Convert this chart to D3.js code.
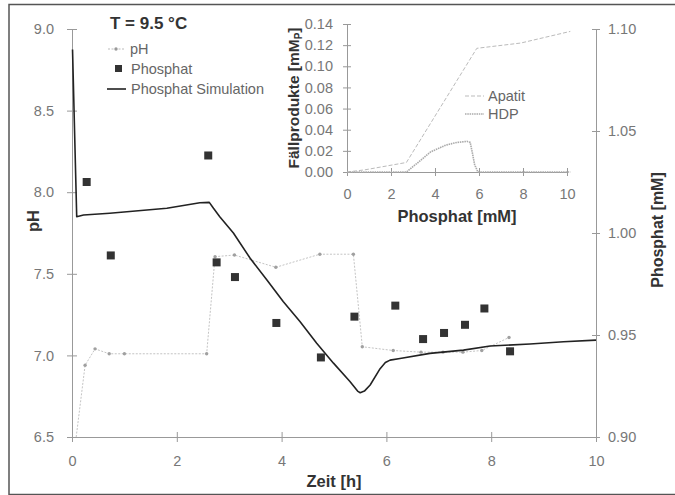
<!DOCTYPE html>
<html><head><meta charset="utf-8">
<script src="https://cdn.jsdelivr.net/npm/d3@7"></script>
<style>
body{margin:0;background:#fff;}
svg{display:block;font-family:"Liberation Sans",Arial,sans-serif;}
</style></head>
<body><svg id="c" width="675" height="495"></svg>
<script>
// ---- data ----
const phTime  = [0.08, 0.25, 0.44, 0.71, 1.0, 2.57, 2.73, 3.1, 3.89, 4.73, 5.37, 5.54, 6.13, 6.66, 7.08, 7.46, 7.82, 8.34];
const phValue = [6.5, 6.94, 7.04, 7.01, 7.01, 7.01, 7.605, 7.615, 7.54, 7.62, 7.62, 7.053, 7.03, 7.02, 7.02, 7.02, 7.03, 7.11];

const pTime  = [0.28, 0.74, 2.6, 2.76, 3.11, 3.9, 4.75, 5.39, 6.17, 6.7, 7.1, 7.5, 7.87, 8.36];
const pValue = [1.025, 0.989, 1.038, 0.9856, 0.9784, 0.9559, 0.939, 0.959, 0.9644, 0.948, 0.951, 0.955, 0.963, 0.942];

const simTime  = [0.01, 0.09, 0.22, 0.72, 1.81, 2.44, 2.62, 2.7, 2.82, 3.08, 3.4, 3.72, 4.03, 4.35, 4.67, 4.99, 5.3, 5.45, 5.5, 5.58, 5.69, 5.88, 5.98, 6.07, 6.26, 6.83, 7.47, 7.98, 8.74, 9.38, 10.0];
const simValue = [1.090, 1.008, 1.0088, 1.0097, 1.0121, 1.0148, 1.015, 1.0121, 1.008, 1.0, 0.9876, 0.977, 0.9664, 0.9566, 0.946, 0.9362, 0.9273, 0.9225, 0.9217, 0.9225, 0.9255, 0.9335, 0.9365, 0.9377, 0.9385, 0.941, 0.9426, 0.9446, 0.9456, 0.9467, 0.9475];

const apX = [0, 0.8, 2.7, 5.9, 7.9, 10.15];
const apY = [0, 0.002, 0.009, 0.117, 0.122, 0.133];
const hdpX = [0, 2.7, 3.2, 3.8, 4.5, 5.0, 5.45, 5.6, 5.7, 5.8, 5.95, 10.15];
const hdpY = [0, 0, 0.0085, 0.019, 0.0255, 0.028, 0.029, 0.028, 0.018, 0.007, 0, 0];

const xTicks = [0, 2, 4, 6, 8, 10];
const phTicks = [6.5, 7.0, 7.5, 8.0, 8.5, 9.0];
const pTicks = [0.90, 0.95, 1.00, 1.05, 1.10];
const inXTicks = [0, 2, 4, 6, 8, 10];
const inYTicks = [0, 0.02, 0.04, 0.06, 0.08, 0.10, 0.12, 0.14];

// ---- setup ----
const svg = d3.select("#c");
const axisCol = "#999", labCol = "#777", titleCol = "#333";

svg.append("rect").attr("x", 9).attr("y", 4.5).attr("width", 700).attr("height", 490)
  .attr("fill", "none").attr("stroke", "#555").attr("stroke-width", 1.5);

const x = d3.scaleLinear().domain([0, 10]).range([72, 596]);
const yPH = d3.scaleLinear().domain([6.5, 9]).range([437, 29]);
const yP = d3.scaleLinear().domain([0.9, 1.1]).range([437, 29]);

function styleAxis(g, fs) {
  g.select(".domain").attr("stroke", axisCol).attr("stroke-width", 1);
  g.selectAll(".tick line").attr("stroke", axisCol);
  g.selectAll(".tick text").attr("fill", labCol).style("font-size", fs + "px")
    .style("font-family", '"Liberation Sans",Arial,sans-serif');
}

// bottom axis
const gx = svg.append("g").attr("transform", "translate(0,437)")
  .call(d3.axisBottom(x).tickValues(xTicks).tickFormat(d3.format("d")).tickSizeOuter(0).tickSizeInner(5).tickPadding(14));
gx.selectAll(".tick line").attr("y1", -5);
styleAxis(gx, 14.5);

// left axis
const gl = svg.append("g").attr("transform", "translate(72,0)")
  .call(d3.axisLeft(yPH).tickValues(phTicks).tickFormat(d3.format(".1f")).tickSizeOuter(0).tickSizeInner(5).tickPadding(13));
gl.selectAll(".tick line").attr("x1", 5);
styleAxis(gl, 14.5);

// right axis
const gr = svg.append("g").attr("transform", "translate(596,0)")
  .call(d3.axisRight(yP).tickValues(pTicks).tickFormat(d3.format(".2f")).tickSizeOuter(0).tickSizeInner(4).tickPadding(8));
gr.selectAll(".tick line").attr("x1", -4);
styleAxis(gr, 14.5);

// titles
svg.append("text").attr("x", 334).attr("y", 487).attr("text-anchor", "middle")
  .attr("font-weight", "bold").attr("font-size", 16.5).attr("fill", titleCol).text("Zeit [h]");
svg.append("text").attr("transform", "translate(39,221) rotate(-90)").attr("text-anchor", "middle")
  .attr("font-weight", "bold").attr("font-size", 16.5).attr("fill", titleCol).text("pH");
svg.append("text").attr("transform", "translate(663,230) rotate(-90)").attr("text-anchor", "middle")
  .attr("font-weight", "bold").attr("font-size", 16).attr("fill", titleCol).text("Phosphat [mM]");

// pH series
const phData = phTime.map((t, i) => [t, phValue[i]]);
svg.append("path").datum(phData)
  .attr("d", d3.line().x(d => x(d[0])).y(d => yPH(d[1])))
  .attr("fill", "none").attr("stroke", "#c4c4c4").attr("stroke-width", 1).attr("stroke-dasharray", "2,1.5");
svg.append("g").selectAll("circle").data(phData.slice(1)).join("circle")
  .attr("cx", d => x(d[0])).attr("cy", d => yPH(d[1])).attr("r", 1.7).attr("fill", "#a0a0a0");

// simulation
const simData = simTime.map((t, i) => [t, simValue[i]]);
svg.append("path").datum(simData)
  .attr("d", d3.line().x(d => x(d[0])).y(d => yP(d[1])))
  .attr("fill", "none").attr("stroke", "#222").attr("stroke-width", 1.6).attr("stroke-linejoin", "round");

// phosphat squares
const pData = pTime.map((t, i) => [t, pValue[i]]);
svg.append("g").selectAll("rect").data(pData).join("rect")
  .attr("x", d => x(d[0]) - 4).attr("y", d => yP(d[1]) - 4).attr("width", 8).attr("height", 8)
  .attr("fill", "#333");

// legend
svg.append("text").attr("x", 110).attr("y", 29).attr("font-weight", "bold").attr("font-size", 17)
  .attr("fill", titleCol).text("T = 9.5 °C");
const lg = svg.append("g");
lg.append("line").attr("x1", 108).attr("x2", 125).attr("y1", 49).attr("y2", 49)
  .attr("stroke", "#bbb").attr("stroke-dasharray", "2,1.5");
lg.append("circle").attr("cx", 116).attr("cy", 49).attr("r", 1.7).attr("fill", "#999");
lg.append("text").attr("x", 130).attr("y", 54).attr("font-size", 14.5).attr("fill", "#666").text("pH");
lg.append("rect").attr("x", 115).attr("y", 65).attr("width", 7).attr("height", 7).attr("fill", "#333");
lg.append("text").attr("x", 131).attr("y", 74).attr("font-size", 14.5).attr("fill", "#666").text("Phosphat");
lg.append("line").attr("x1", 107).attr("x2", 126).attr("y1", 89).attr("y2", 89)
  .attr("stroke", "#222").attr("stroke-width", 1.6);
lg.append("text").attr("x", 131).attr("y", 94).attr("font-size", 14.5).attr("fill", "#666").text("Phosphat Simulation");

// ---- inset ----
const ix = d3.scaleLinear().domain([0, 10]).range([347, 567]);
const iy = d3.scaleLinear().domain([0, 0.14]).range([172, 24]);

const igx = svg.append("g").attr("transform", "translate(0,172)")
  .call(d3.axisBottom(ix).tickValues(inXTicks).tickFormat(d3.format("d")).tickSizeOuter(0).tickSizeInner(4).tickPadding(13));
igx.selectAll(".tick line").attr("y1", -4);
styleAxis(igx, 14.5);
const igy = svg.append("g").attr("transform", "translate(347,0)")
  .call(d3.axisLeft(iy).tickValues(inYTicks).tickFormat(d3.format(".2f")).tickSizeOuter(0).tickSizeInner(4).tickPadding(10));
igy.selectAll(".tick line").attr("x1", 4);
styleAxis(igy, 14.5);

svg.append("text").attr("x", 457).attr("y", 222).attr("text-anchor", "middle")
  .attr("font-weight", "bold").attr("font-size", 16.5).attr("fill", titleCol).text("Phosphat [mM]");
const ft = svg.append("text").attr("transform", "translate(299,98) rotate(-90)").attr("text-anchor", "middle")
  .attr("font-weight", "bold").attr("font-size", 15.5).attr("fill", titleCol);
ft.append("tspan").text("Fällprodukte [mM");
ft.append("tspan").attr("font-size", 10).attr("dy", 3).text("P");
ft.append("tspan").attr("dy", -3).text("]");

const apData = apX.map((v, i) => [v, apY[i]]);
svg.append("path").datum(apData)
  .attr("d", d3.line().x(d => ix(d[0])).y(d => iy(d[1])))
  .attr("fill", "none").attr("stroke", "#bbb").attr("stroke-width", 1).attr("stroke-dasharray", "4,2");
const hdpData = hdpX.map((v, i) => [v, hdpY[i]]);
svg.append("path").datum(hdpData)
  .attr("d", d3.line().x(d => ix(d[0])).y(d => iy(d[1])))
  .attr("fill", "none").attr("stroke", "#aaa").attr("stroke-width", 1.6).attr("stroke-dasharray", "1.5,0.8");

svg.append("line").attr("x1", 465).attr("x2", 484).attr("y1", 96).attr("y2", 96)
  .attr("stroke", "#bbb").attr("stroke-dasharray", "4,2");
svg.append("text").attr("x", 488).attr("y", 101).attr("font-size", 14.5).attr("fill", "#666").text("Apatit");
svg.append("line").attr("x1", 465).attr("x2", 484).attr("y1", 114).attr("y2", 114)
  .attr("stroke", "#aaa").attr("stroke-width", 1.6).attr("stroke-dasharray", "1.5,0.8");
svg.append("text").attr("x", 488).attr("y", 119).attr("font-size", 14.5).attr("fill", "#666").text("HDP");
</script></body></html>
